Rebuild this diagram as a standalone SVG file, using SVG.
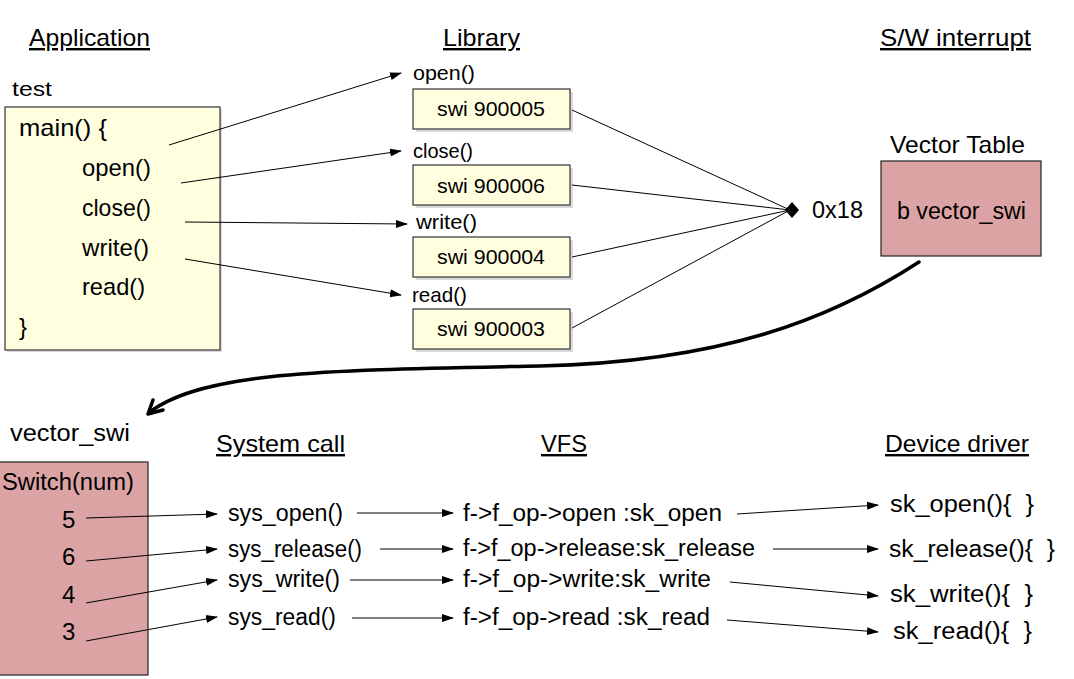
<svg xmlns="http://www.w3.org/2000/svg" width="1074" height="679" viewBox="0 0 1074 679">
<defs>
<marker id="ah" markerWidth="12" markerHeight="10" refX="11" refY="5" orient="auto" markerUnits="userSpaceOnUse">
<path d="M0,1 L12,5 L0,9 Z" fill="#000"/>
</marker>
</defs>
<style>
text{font-family:"Liberation Sans",Arial,sans-serif;fill:#000}
.h{font-size:24px;text-decoration:underline}
.t{font-size:23px}
.a{font-size:24px}
.s{font-size:21px}
.ybox{fill:#FFFFE0;stroke:#333;stroke-width:1.2}
.shadow{fill:#d9d9d9}
.pbox{fill:#DCA3A5;stroke:#222;stroke-width:1.2}
.ln{stroke:#000;stroke-width:1;fill:none}
.arr{stroke:#000;stroke-width:1;fill:none;marker-end:url(#ah)}
.thick{stroke:#000;stroke-width:3.5;fill:none;stroke-linecap:round;stroke-linejoin:round}
</style>
<rect width="1074" height="679" fill="#fff"/>

<g id="headers">
<text class="h" x="29" y="46" textLength="121" lengthAdjust="spacingAndGlyphs">Application</text>
<text class="h" x="443" y="46" textLength="77" lengthAdjust="spacingAndGlyphs">Library</text>
<text class="h" x="880" y="46" textLength="151" lengthAdjust="spacingAndGlyphs">S/W interrupt</text>
<text class="h" x="216" y="452" textLength="129" lengthAdjust="spacingAndGlyphs">System call</text>
<text class="h" x="541" y="452" textLength="46" lengthAdjust="spacingAndGlyphs">VFS</text>
<text class="h" x="885" y="452" textLength="144" lengthAdjust="spacingAndGlyphs">Device driver</text>
</g>

<g id="app">
<text class="s" x="12" y="96" textLength="40" lengthAdjust="spacingAndGlyphs">test</text>
<rect class="shadow" x="7" y="109" width="215" height="243"/>
<rect class="ybox" x="5" y="107" width="215" height="243"/>
<text class="a" x="19" y="136" textLength="88" lengthAdjust="spacingAndGlyphs">main() {</text>
<text class="a" x="82" y="176" textLength="69" lengthAdjust="spacingAndGlyphs">open()</text>
<text class="a" x="82" y="216" textLength="69" lengthAdjust="spacingAndGlyphs">close()</text>
<text class="a" x="82" y="256" textLength="67" lengthAdjust="spacingAndGlyphs">write()</text>
<text class="a" x="82" y="295" textLength="63" lengthAdjust="spacingAndGlyphs">read()</text>
<text class="a" x="19" y="335">}</text>
</g>

<g id="lib-open">
<text class="s" x="413" y="80" textLength="62" lengthAdjust="spacingAndGlyphs">open()</text>
<rect class="shadow" x="416" y="92" width="157" height="40"/>
<rect class="ybox" x="413" y="89" width="157" height="40"/>
<text class="s" x="437" y="116" textLength="108" lengthAdjust="spacingAndGlyphs">swi 900005</text>
</g>
<g id="lib-close">
<text class="s" x="413" y="158" textLength="60" lengthAdjust="spacingAndGlyphs">close()</text>
<rect class="shadow" x="416" y="168" width="157" height="40"/>
<rect class="ybox" x="413" y="165" width="157" height="40"/>
<text class="s" x="437" y="193" textLength="108" lengthAdjust="spacingAndGlyphs">swi 900006</text>
</g>
<g id="lib-write">
<text class="s" x="416" y="229" textLength="61" lengthAdjust="spacingAndGlyphs">write()</text>
<rect class="shadow" x="416" y="240" width="157" height="40"/>
<rect class="ybox" x="413" y="237" width="157" height="40"/>
<text class="s" x="437" y="264" textLength="108" lengthAdjust="spacingAndGlyphs">swi 900004</text>
</g>
<g id="lib-read">
<text class="s" x="412" y="302" textLength="55" lengthAdjust="spacingAndGlyphs">read()</text>
<rect class="shadow" x="416" y="312" width="157" height="40"/>
<rect class="ybox" x="413" y="309" width="157" height="40"/>
<text class="s" x="437" y="336" textLength="108" lengthAdjust="spacingAndGlyphs">swi 900003</text>
</g>

<g id="swi-entry">
<polygon points="785,210 792,202 799,210 792,218" fill="#000"/>
<text class="t" x="812" y="218" textLength="51" lengthAdjust="spacingAndGlyphs">0x18</text>
</g>

<g id="vector-table">
<text class="a" x="890" y="153" textLength="135" lengthAdjust="spacingAndGlyphs">Vector Table</text>
<rect class="pbox" x="881" y="161" width="160" height="95"/>
<text class="t" x="897" y="219" textLength="129" lengthAdjust="spacingAndGlyphs">b vector_swi</text>
</g>

<g id="vector-swi">
<text class="t" x="10" y="441" textLength="120" lengthAdjust="spacingAndGlyphs">vector_swi</text>
<rect class="pbox" x="-1" y="462" width="149" height="213"/>
<text class="t" x="2" y="490" textLength="132" lengthAdjust="spacingAndGlyphs">Switch(num)</text>
<text class="a" x="62" y="528">5</text>
<text class="a" x="62" y="565">6</text>
<text class="a" x="62" y="603">4</text>
<text class="a" x="62" y="640">3</text>
</g>

<g id="syscalls">
<text class="t" x="228" y="521" textLength="115" lengthAdjust="spacingAndGlyphs">sys_open()</text>
<text class="t" x="228" y="557" textLength="134" lengthAdjust="spacingAndGlyphs">sys_release()</text>
<text class="t" x="228" y="587" textLength="112" lengthAdjust="spacingAndGlyphs">sys_write()</text>
<text class="t" x="228" y="625" textLength="108" lengthAdjust="spacingAndGlyphs">sys_read()</text>
</g>

<g id="vfs">
<text class="t" x="463" y="521" textLength="259" lengthAdjust="spacingAndGlyphs">f-&gt;f_op-&gt;open :sk_open</text>
<text class="t" x="463" y="556" textLength="292" lengthAdjust="spacingAndGlyphs">f-&gt;f_op-&gt;release:sk_release</text>
<text class="t" x="463" y="587" textLength="248" lengthAdjust="spacingAndGlyphs">f-&gt;f_op-&gt;write:sk_write</text>
<text class="t" x="463" y="625" textLength="247" lengthAdjust="spacingAndGlyphs">f-&gt;f_op-&gt;read :sk_read</text>
</g>

<g id="driver">
<text class="t" x="890" y="512" textLength="144" lengthAdjust="spacingAndGlyphs">sk_open(){&#160; }</text>
<text class="t" x="889" y="557" textLength="166" lengthAdjust="spacingAndGlyphs">sk_release(){&#160; }</text>
<text class="t" x="890" y="602" textLength="143" lengthAdjust="spacingAndGlyphs">sk_write(){&#160; }</text>
<text class="t" x="893" y="639" textLength="139" lengthAdjust="spacingAndGlyphs">sk_read(){&#160; }</text>
</g>

<g id="connectors">
<path class="arr" d="M169,145 L401,73"/>
<path class="arr" d="M181,183 L401,151"/>
<path class="arr" d="M185,222 L407,224"/>
<path class="arr" d="M185,259 L401,295"/>
<path class="ln" d="M572,110 L790,210"/>
<path class="ln" d="M572,185 L790,210"/>
<path class="ln" d="M572,257 L790,210"/>
<path class="ln" d="M572,328 L790,210"/>
<path class="thick" d="M919,262 C830,320 720,362 540,366 C340,370 205,370 150,412"/>
<path class="thick" d="M153,400 L148,414 L163,410"/>
<path class="arr" d="M86,518 L217,514"/>
<path class="arr" d="M86,561 L217,549"/>
<path class="arr" d="M86,603 L217,580"/>
<path class="arr" d="M86,641 L217,617"/>
<path class="arr" d="M357,513 L453,513"/>
<path class="arr" d="M380,549 L453,549"/>
<path class="arr" d="M350,580 L453,580"/>
<path class="arr" d="M352,618 L453,618"/>
<path class="arr" d="M737,514 L878,505"/>
<path class="arr" d="M773,549 L878,549"/>
<path class="arr" d="M730,582 L878,596"/>
<path class="arr" d="M727,620 L878,632"/>
</g>
</svg>
